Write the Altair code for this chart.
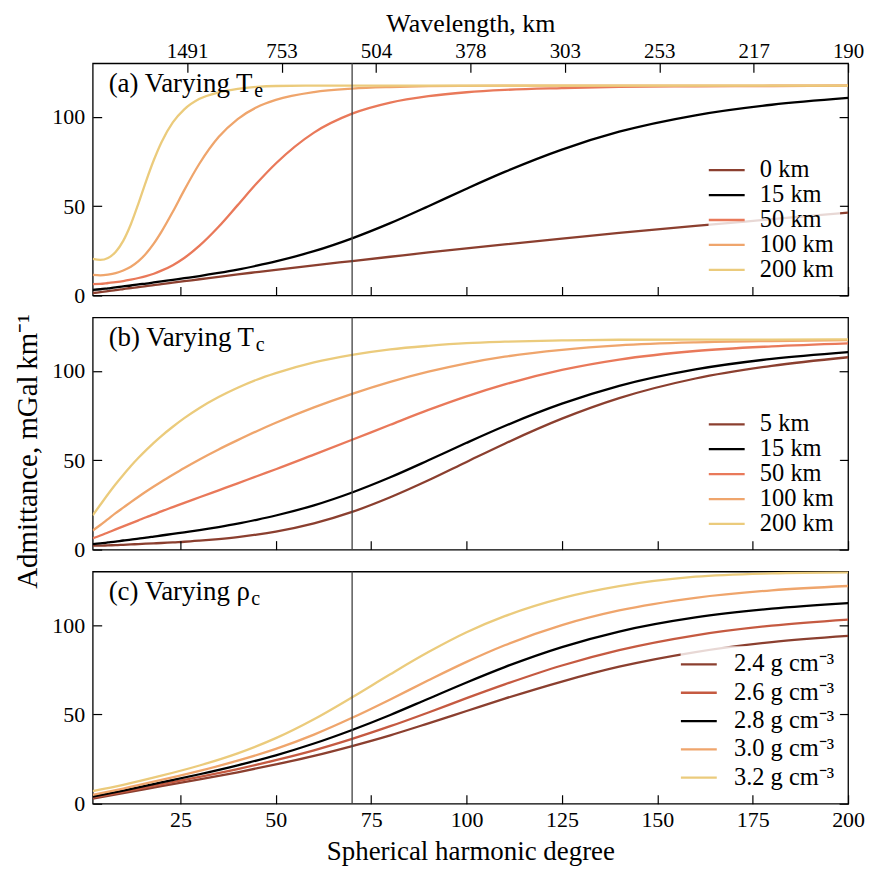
import altair as alt
import pandas as pd

FONT = "Liberation Serif"
TICK = 9

# ---------------- data ----------------
deg_a = [2, 4, 6, 8, 10, 12, 14, 16, 18, 20, 23, 26, 30, 35, 40, 45, 50, 60, 70, 80, 90, 100, 110, 125, 140, 160, 180, 200]
te_0 = [1.4, 1.9, 2.5, 3.0, 3.6, 4.2, 4.7, 5.3, 5.8, 6.4, 7.2, 8.0, 9.1, 10.4, 11.8, 13.1, 14.4, 16.9, 19.3, 21.7, 24.1, 26.4, 28.6, 31.8, 35.0, 39.0, 42.7, 46.4]
te_15 = [3.1, 3.5, 4.0, 4.5, 5.1, 5.6, 6.2, 6.7, 7.3, 7.9, 8.8, 9.7, 10.9, 12.6, 14.5, 16.7, 19.1, 24.8, 32.0, 40.5, 50.0, 59.8, 69.2, 81.7, 91.7, 100.9, 106.8, 110.6]
te_50 = [6.4, 6.5, 7.0, 7.5, 8.1, 8.9, 9.8, 10.9, 12.2, 13.9, 17.0, 21.0, 27.9, 38.5, 50.6, 62.8, 73.9, 91.2, 101.8, 108.0, 111.6, 113.8, 115.1, 116.1, 116.8, 117.1, 117.3, 117.5]
te_100 = [11.5, 11.3, 11.7, 12.5, 14.0, 16.1, 19.2, 23.5, 29.0, 35.6, 46.9, 59.0, 73.9, 88.7, 98.8, 105.4, 109.5, 113.9, 115.8, 116.7, 117.2, 117.4, 117.5, 117.5, 117.5, 117.5, 117.5, 117.5]
te_200 = [20.5, 19.9, 21.0, 24.4, 30.6, 39.9, 51.6, 64.1, 75.7, 85.7, 96.9, 104.2, 110.1, 113.7, 115.7, 116.8, 117.3, 117.5, 117.5, 117.5, 117.5, 117.5, 117.5, 117.5, 117.5, 117.5, 117.5, 117.5]

deg_b = [2, 4, 6, 8, 10, 12, 14, 16, 18, 20, 23, 26, 30, 35, 40, 45, 50, 60, 70, 80, 90, 100, 110, 125, 140, 160, 180, 200]
tc_5 = [2.2, 2.2, 2.4, 2.5, 2.7, 2.9, 3.1, 3.3, 3.5, 3.7, 4.1, 4.4, 5.0, 5.9, 7.0, 8.4, 10.1, 14.7, 21.1, 29.3, 38.8, 49.1, 59.3, 73.3, 84.8, 95.8, 102.9, 107.7]
tc_15 = [3.1, 3.5, 4.0, 4.5, 5.1, 5.6, 6.2, 6.7, 7.3, 7.9, 8.8, 9.7, 10.9, 12.6, 14.5, 16.7, 19.1, 24.8, 32.0, 40.5, 50.0, 59.8, 69.2, 81.7, 91.7, 100.9, 106.8, 110.6]
tc_50 = [6.3, 7.9, 9.6, 11.3, 13.0, 14.7, 16.4, 18.1, 19.7, 21.4, 23.8, 26.2, 29.3, 33.2, 37.1, 41.1, 45.0, 53.2, 61.5, 69.9, 78.2, 85.8, 92.5, 100.6, 106.4, 111.2, 113.8, 115.5]
tc_100 = [10.7, 13.8, 17.1, 20.4, 23.5, 26.6, 29.6, 32.5, 35.3, 38.0, 41.9, 45.7, 50.5, 56.1, 61.3, 66.3, 71.0, 79.6, 87.2, 93.9, 99.6, 104.3, 108.0, 111.8, 114.3, 116.0, 116.8, 117.3]
tc_200 = [19.2, 25.1, 31.0, 36.6, 41.8, 46.8, 51.4, 55.7, 59.8, 63.6, 68.8, 73.6, 79.3, 85.4, 90.6, 95.1, 98.8, 104.8, 109.0, 112.1, 114.1, 115.6, 116.4, 117.1, 117.5, 117.6, 117.6, 117.7]

deg_c = [2, 10, 20, 30, 40, 50, 60, 70, 80, 90, 100, 110, 125, 140, 160, 180, 200]
rho_24 = [2.9, 5.9, 9.8, 13.6, 17.6, 22.0, 26.8, 32.3, 38.3, 45.0, 51.9, 58.8, 68.4, 76.7, 84.9, 90.5, 94.0]
rho_26 = [3.4, 6.6, 10.8, 15.0, 19.4, 24.4, 29.9, 36.3, 43.4, 51.1, 59.1, 66.8, 77.4, 86.0, 94.3, 99.7, 103.1]
rho_28 = [4.0, 7.4, 11.9, 16.5, 21.5, 27.1, 33.7, 41.3, 49.7, 58.8, 67.9, 76.5, 87.7, 96.4, 104.3, 109.2, 112.3]
rho_30 = [5.0, 8.5, 13.3, 18.4, 24.1, 30.7, 38.7, 48.1, 58.4, 69.1, 79.4, 88.7, 100.0, 108.2, 115.3, 119.5, 121.9]
rho_32 = [7.1, 10.6, 15.7, 21.4, 28.2, 36.7, 47.3, 59.6, 72.5, 84.9, 96.0, 105.0, 115.1, 121.8, 127.1, 129.0, 129.6]

names_a = ["0 km", "15 km", "50 km", "100 km", "200 km"]
names_b = ["5 km", "15 km", "50 km", "100 km", "200 km"]
names_c = ["2.4 g cm\u207b\u00b3", "2.6 g cm\u207b\u00b3", "2.8 g cm\u207b\u00b3",
           "3.0 g cm\u207b\u00b3", "3.2 g cm\u207b\u00b3"]

colors_a = ["#8b3f2f", "#000000", "#e9795a", "#efa56c", "#ebcb7c"]
colors_b = ["#8b3f2f", "#000000", "#e9795a", "#efa56c", "#ebcb7c"]
colors_c = ["#8b3f2f", "#c55a41", "#000000", "#efa56c", "#ebcb7c"]

x_ticks = [25, 50, 75, 100, 125, 150, 175, 200]
wavelength_labels = ["1491", "753", "504", "378", "303", "253", "217", "190"]
y_ticks = [0, 50, 100]
marker_degree = [70]

W, H = 758, 233


def label_expr(values, labels):
    expr = "''"
    for v, l in reversed(list(zip(values, labels))):
        expr = f"datum.value == {v} ? '{l}' : ({expr})"
    return expr


def make_panel(deg, series, names, colors, label, sub, sub_x, bottom, top_wl, ytitle,
               row_pad, lab_off):
    rows = [{"degree": d, "adm": v, "series": n}
            for n, vals in zip(names, series) for d, v in zip(deg, vals)]
    df = pd.DataFrame(rows)

    xscale = alt.Scale(domain=[2, 200], nice=False, zero=False)
    yscale = alt.Scale(domain=[0, 130], nice=False, zero=True)

    ykw = dict(orient="left", values=y_ticks, offset=-TICK, tickSize=TICK, domain=False,
               grid=False, tickColor="black", tickWidth=1.2,
               labelFont=FONT, labelFontSize=22, labelColor="black", labelPadding=8)
    if ytitle:
        ykw.update(title="Admittance, mGal\u2009km\u207b\u00b9", titleFont=FONT, titleFontSize=29,
                   titleFontWeight="normal", titleColor="black", titleAngle=270,
                   titleAlign="center", titleBaseline="middle", titleX=-74, titleY=134)
    else:
        ykw.update(title=None)

    legend = alt.Legend(title=None, orient="bottom-right", offset=8, padding=6,
                        fillColor="rgba(255,255,255,0.8)", symbolType="M-2,0H2",
                        symbolSize=324, symbolStrokeWidth=2.3, labelFont=FONT,
                        labelFontSize=24.5, labelColor="black", labelOffset=lab_off,
                        rowPadding=row_pad)

    lines = alt.Chart(df).mark_line(strokeWidth=2.3, clip=True, interpolate="monotone").encode(
        x=alt.X("degree:Q", scale=xscale, axis=None),
        y=alt.Y("adm:Q", scale=yscale, axis=alt.Axis(**ykw)),
        color=alt.Color("series:N", scale=alt.Scale(domain=names, range=colors), legend=legend),
    )
    rule = alt.Chart(pd.DataFrame({"d": marker_degree})).mark_rule(
        color="#404040", strokeWidth=1.3).encode(
        x=alt.X("d:Q", scale=xscale, axis=None))
    text = alt.Chart(pd.DataFrame({"t": [label]})).mark_text(
        align="left", baseline="alphabetic", font=FONT, fontSize=27, color="black").encode(
        x=alt.value(16), y=alt.value(28.5), text="t:N")
    subt = alt.Chart(pd.DataFrame({"t": [sub]})).mark_text(
        align="left", baseline="alphabetic", font=FONT, fontSize=20, color="black").encode(
        x=alt.value(sub_x), y=alt.value(33.5), text="t:N")

    # bottom axis (degree ticks) drawn from its own invisible layer
    bkw = dict(orient="bottom", values=x_ticks, offset=-TICK, tickSize=TICK, domain=False,
               grid=False, labels=bottom, labelFlush=False, tickColor="black", tickWidth=1.2,
               labelFont=FONT, labelFontSize=22, labelColor="black", labelPadding=6, zindex=1)
    if bottom:
        bkw.update(title="Spherical harmonic degree", titleFont=FONT, titleFontSize=27,
                   titleFontWeight="normal", titleColor="black", titlePadding=8)
    else:
        bkw.update(title=None)
    bot = alt.Chart(pd.DataFrame({"bx": [100]})).mark_point(opacity=0).encode(
        x=alt.X("bx:Q", scale=xscale, axis=alt.Axis(**bkw)))

    aux_df = pd.DataFrame({"ax": [100], "ay": [50]})
    rkw = dict(orient="right", values=y_ticks, offset=-TICK, tickSize=TICK, domain=False,
               grid=False, labels=False, title=None, tickColor="black", tickWidth=1.2)
    if top_wl:
        tkw = dict(orient="top", values=x_ticks, offset=-TICK, tickSize=TICK, domain=False,
                   grid=False, labelFlush=False, tickColor="black", tickWidth=1.2,
                   labelExpr=label_expr(x_ticks, wavelength_labels),
                   labelFont=FONT, labelFontSize=21, labelColor="black", labelPadding=2,
                   title="Wavelength, km", titleFont=FONT, titleFontSize=26,
                   titleFontWeight="normal", titleColor="black", titlePadding=4)
        aux = alt.Chart(aux_df).mark_point(opacity=0).encode(
            x=alt.X("ax:Q", scale=alt.Scale(domain=[0, 200], nice=False, zero=False),
                    axis=alt.Axis(**tkw)),
            y=alt.Y("ay:Q", scale=yscale, axis=alt.Axis(**rkw)))
    else:
        aux = alt.Chart(aux_df).mark_point(opacity=0).encode(
            y=alt.Y("ay:Q", scale=yscale, axis=alt.Axis(**rkw)))
    return alt.layer(lines, rule, text, subt, bot, aux).resolve_scale(
        x="independent", y="independent").properties(width=W, height=H)


pa = make_panel(deg_a, [te_0, te_15, te_50, te_100, te_200], names_a, colors_a,
                "(a) Varying T", "e", 162, False, True, False, 0, 21)
pb = make_panel(deg_b, [tc_5, tc_15, tc_50, tc_100, tc_200], names_b, colors_b,
                "(b) Varying T", "c", 163.5, False, False, True, 0, 21)
pc = make_panel(deg_c, [rho_24, rho_26, rho_28, rho_30, rho_32], names_c, colors_c,
                "(c) Varying \u03c1", "c", 159, True, False, False, 3.4, 23)

chart = alt.vconcat(pa, pb, pc, spacing=22, bounds="flush").resolve_scale(
    color="independent", x="independent", y="independent").properties(
    padding={"left": 5, "top": 0, "right": 0, "bottom": 0},
    background="white").configure_view(stroke="black", strokeWidth=1.3)

chart.save("out.html", embed_options={"renderer": "svg", "actions": False})
